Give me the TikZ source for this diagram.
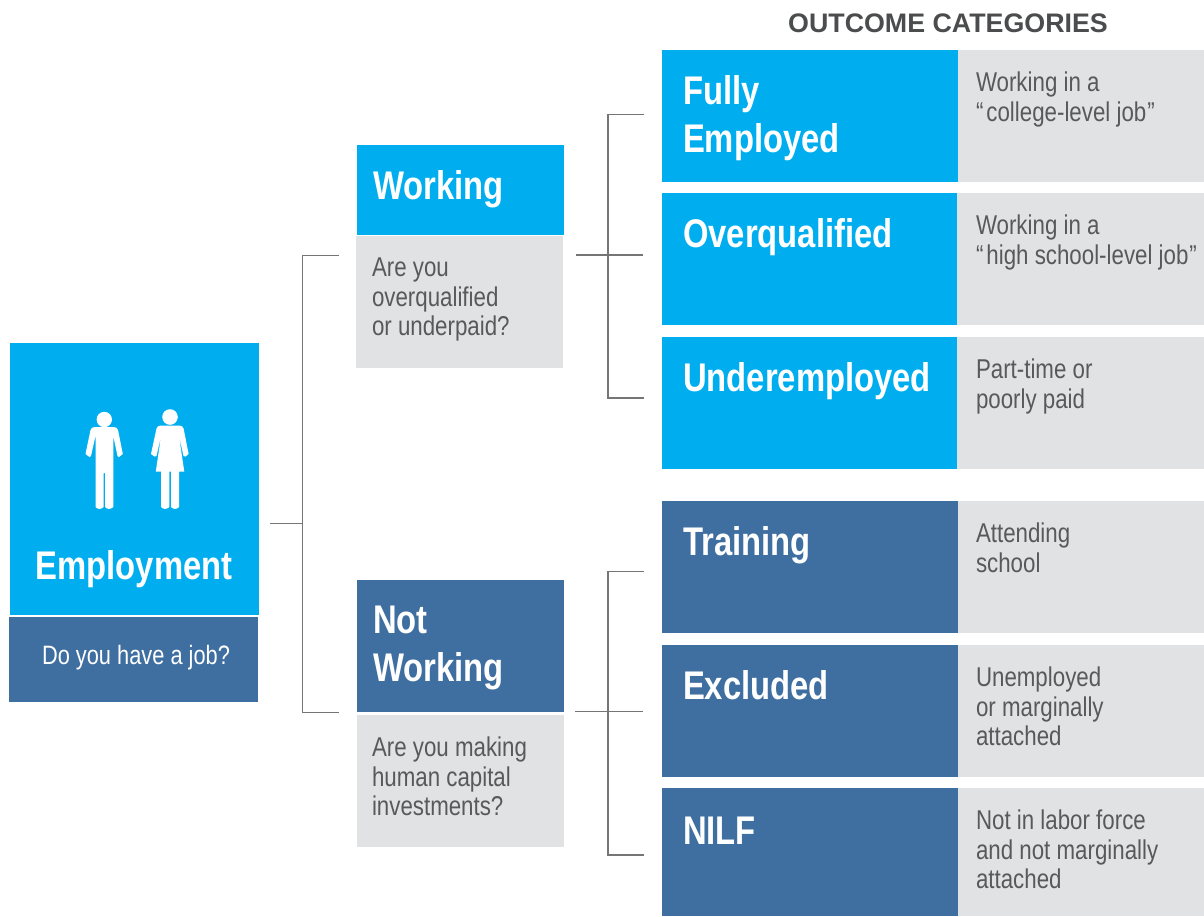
\documentclass[tikz,border=0pt]{standalone}
\usepackage{fontspec}
\setmainfont{Liberation Sans}
\newfontfamily\narrowfont{Liberation Sans}[FakeStretch=0.82]
\definecolor{skyb}{HTML}{00AEEF}
\definecolor{deepb}{HTML}{3F6EA0}
\definecolor{paleg}{HTML}{E1E2E4}
\definecolor{txtg}{HTML}{58595B}
\definecolor{linkg}{HTML}{757575}
\tikzset{
  boxbase/.style={rectangle,inner sep=0pt,outer sep=0pt,draw=none},
  skybox/.style={boxbase,fill=skyb},
  deepbox/.style={boxbase,fill=deepb},
  palebox/.style={boxbase,fill=paleg},
  titletxt/.style={anchor=north west,inner sep=0pt,outer sep=0pt,align=left,text=white,font=\narrowfont\bfseries\fontsize{40}{47.5}\selectfont},
  bodytxt/.style={anchor=north west,inner sep=0pt,outer sep=0pt,align=left,text=txtg,font=\narrowfont\fontsize{27.2}{29.3}\selectfont},
  linkline/.style={draw=linkg,line width=1.3pt},
  figure/.style={fill=white,draw=none}
}
\newcommand{\boxat}[6]{% name style x0 y0 x1 y1
  \node[#2,minimum width=#5pt-#3pt,minimum height=#6pt-#4pt,anchor=north west] (#1) at (#3,#4) {};}
\begin{document}
\begin{tikzpicture}[x=1pt,y=-1pt]
\useasboundingbox (0,0) rectangle (1204,916);
% left
\boxat{emp}{skybox}{10}{343}{259}{615}
\boxat{job}{deepbox}{9}{617}{258}{702}
% middle
\boxat{work}{skybox}{357}{145}{564}{235}
\boxat{workq}{palebox}{356}{236}{563}{368}
\boxat{notw}{deepbox}{357}{580}{564}{712}
\boxat{notwq}{palebox}{357}{715}{564}{847}
% right
\boxat{full}{skybox}{662}{50}{958}{182}
\boxat{fullg}{palebox}{958}{50}{1204}{182}
\boxat{over}{skybox}{662}{193}{957}{325}
\boxat{overg}{palebox}{957}{193}{1204}{325}
\boxat{under}{skybox}{662}{337}{957}{469}
\boxat{underg}{palebox}{957}{337}{1204}{469}
\boxat{train}{deepbox}{662}{501}{958}{633}
\boxat{traing}{palebox}{958}{501}{1204}{633}
\boxat{excl}{deepbox}{662}{645}{958}{777}
\boxat{exclg}{palebox}{958}{645}{1204}{777}
\boxat{nilf}{deepbox}{662}{788}{958}{916}
\boxat{nilfg}{palebox}{958}{788}{1204}{916}
% heading
\node[anchor=base,inner sep=0pt,text=txtg!85!black,font=\bfseries\fontsize{26.8}{29}\selectfont] (head) at (948,32) {OUTCOME CATEGORIES};
% titles
\node[titletxt,anchor=base] (empt) at (134,579) {Employment};
\node[anchor=base,inner sep=0pt,text=white,font=\narrowfont\fontsize{26.6}{29}\selectfont] (jobt) at (136,664) {Do you have a job?};
\node[titletxt] (workt) at (373,171) {Working};
\node[titletxt] (notwt) at (373,606) {Not\\Working};
\node[titletxt] (fullt) at (683,76) {Fully\\Employed};
\node[titletxt] (overt) at (683,219) {Overqualified};
\node[titletxt] (undert) at (683,363) {Underemployed};
\node[titletxt] (traint) at (683,527) {Training};
\node[titletxt] (exclt) at (683,671) {Excluded};
\node[titletxt] (nilft) at (683,817) {NILF};
% body
\node[bodytxt] (workb) at (372,258) {Are you\\overqualified\\or underpaid?};
\node[bodytxt] (notwb) at (372,737) {Are you making\\human capital\\investments?};
\node[bodytxt] (fullb) at (976,72) {Working in a\\“\kern3pt college-level job\kern1pt”};
\node[bodytxt] (overb) at (976,215) {Working in a\\“\kern3pt high school-level job\kern1pt”};
\node[bodytxt] (underb) at (976,359) {Part-time or\\poorly paid};
\node[bodytxt] (trainb) at (976,523) {Attending\\school};
\node[bodytxt] (exclb) at (976,667) {Unemployed\\or marginally\\attached};
\node[bodytxt] (nilfb) at (976,810) {Not in labor force\\and not marginally\\attached};
% connector anchors
\coordinate (a0) at (270,523.5);
\coordinate (a1) at (302.5,523.5);
\coordinate (a2) at (339,255.5);
\coordinate (a3) at (339,712.5);
\coordinate (b0) at (576,255);
\coordinate (b1) at (608,255);
\coordinate (b2) at (644,114.5);
\coordinate (b3) at (643,255);
\coordinate (b4) at (644,398);
\coordinate (c0) at (575,711.5);
\coordinate (c1) at (608,711.5);
\coordinate (c2) at (644,571.5);
\coordinate (c3) at (643,711.5);
\coordinate (c4) at (644,855);
\draw[linkline] (a0) -- (a1);
\draw[linkline] (a2) -| (a1) |- (a3);
\draw[linkline] (b0) -- (b3);
\draw[linkline] (b2) -| (b1) |- (b4);
\draw[linkline] (c0) -- (c3);
\draw[linkline] (c2) -| (c1) |- (c4);
% man
\fill[figure] (104.3,419.5) circle (7.7);
\fill[figure] (95,427) -- (113.5,427) .. controls (116,427) and (117.5,428) .. (118,430)
  -- (122.8,454) -- (119,457) -- (117.5,456) -- (113.3,436) -- (113.3,507)
  .. controls (111,509.5) and (107,509.5) .. (105.2,507) -- (105.2,473) -- (103.6,473) -- (103.6,507)
  .. controls (101.5,509.5) and (97.5,509.5) .. (95.5,507) -- (95.5,436) -- (91,456) -- (89.5,457) -- (85.5,454)
  -- (90.5,430) .. controls (91,428) and (92.5,427) .. (95,427) -- cycle;
% woman
\fill[figure] (170,417) circle (7.8);
\fill[figure] (161,425.5) -- (179,425.5) .. controls (181.5,425.5) and (183,426.5) .. (183.6,428.5)
  -- (188.6,454) -- (185.5,456.5) -- (183.5,456) -- (179,436) -- (184.3,471.7) -- (179,471.7) -- (179,507)
  .. controls (177,509.5) and (173,509.5) .. (171,507) -- (171,471.7) -- (169.3,471.7) -- (169.3,507)
  .. controls (167,509.5) and (163,509.5) .. (161.2,507) -- (161.2,471.7) -- (155.8,471.7) -- (161,436)
  -- (156.5,456) -- (154.5,456.5) -- (151,454) -- (156.5,428.5) .. controls (157,426.5) and (158.5,425.5) .. (161,425.5) -- cycle;
\end{tikzpicture}
\end{document}
